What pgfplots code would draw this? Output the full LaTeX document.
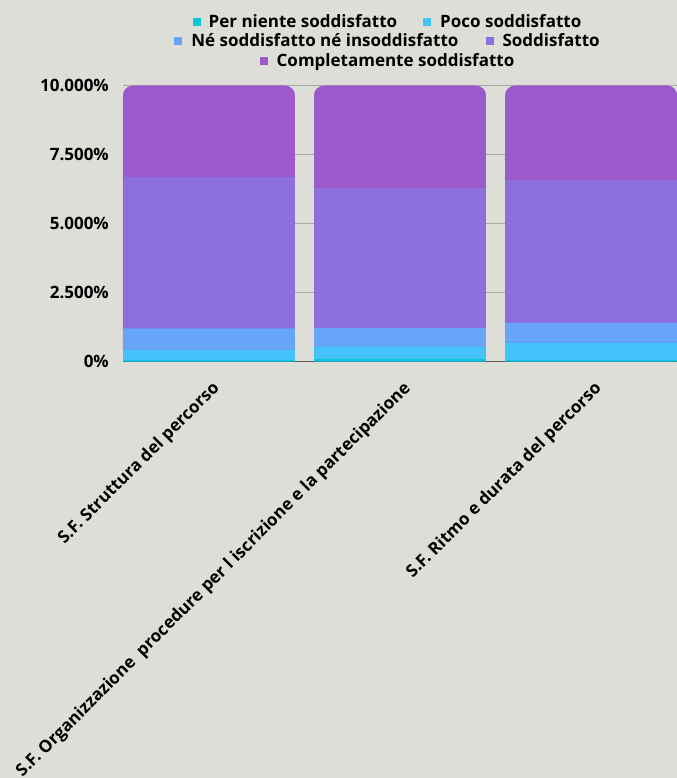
\documentclass[border=0pt]{standalone}
\usepackage{fontspec}
\setmainfont{Open Sans}
\usepackage{pgfplots}
\pgfplotsset{compat=1.18}
\usetikzlibrary{backgrounds}
\definecolor{cA}{RGB}{12,198,217}
\definecolor{cB}{RGB}{70,195,251}
\definecolor{cC}{RGB}{102,165,248}
\definecolor{cD}{RGB}{140,110,220}
\definecolor{cE}{RGB}{155,89,203}
\definecolor{bgc}{RGB}{222,222,217}
\definecolor{gridc}{RGB}{168,168,164}
\newcommand{\tlfont}{\fontsize{17bp}{20bp}\selectfont\bfseries}
\newcommand{\legsq}[1]{\textcolor{#1}{\rule[1.5bp]{8bp}{8bp}}}
\begin{document}
\begin{tikzpicture}
\pgfplotsset{
  base/.style={scale only axis, width=554bp, height=276bp,
    xmin=-0.45, xmax=2.45, ymin=0, ymax=10,
    xtick={0,1,2}, ytick={0,2.5,5,7.5,10}},
}
\begin{axis}[base, name=ax,
  axis line style={draw=none},
  major tick length=0pt,
  ymajorgrids, grid style={gridc, line width=1.2bp},
  extra y ticks={0}, extra y tick labels={},
  extra y tick style={grid style={black!65, line width=1bp}},
  yticklabels={0\%,2.500\%,5.000\%,7.500\%,10.000\%},
  y tick label style={font=\tlfont, anchor=east, inner sep=0pt, xshift=-14bp},
  xticklabels={S.F. Struttura del percorso,{S.F. Organizzazione\ \ procedure per l iscrizione e la partecipazione},S.F. Ritmo e durata del percorso},
  x tick label style={font=\tlfont, anchor=north east, inner sep=0pt, xshift=2bp, yshift=-18bp, rotate=45},
]
\addplot[ybar, bar width=0.9, bar shift=0pt, fill=cE, draw=none, rounded corners=10bp] coordinates {(0,10) (1,10) (2,10)};
\end{axis}
\begin{axis}[base, hide axis, ybar stacked, bar width=0.9]
\addplot[fill=cA, draw=none] coordinates {(0,0.06) (1,0.10) (2,0.07)};
\addplot[fill=cB, draw=none] coordinates {(0,0.39) (1,0.44) (2,0.62)};
\addplot[fill=cC, draw=none] coordinates {(0,0.76) (1,0.69) (2,0.72)};
\addplot[fill=cD, draw=none] coordinates {(0,5.49) (1,5.06) (2,5.17)};
\addplot[fill=cE, draw=none, rounded corners=10bp] coordinates {(0,3.30) (1,3.71) (2,3.42)};
\end{axis}
\node[anchor=base, inner sep=0pt, font=\tlfont] at ([xshift=-13bp,yshift=58.4bp]ax.north)
  {\legsq{cA}\hspace{8bp}Per niente soddisfatto\hspace{26bp}\legsq{cB}\hspace{9bp}Poco soddisfatto};
\node[anchor=base, inner sep=0pt, font=\tlfont] at ([xshift=-13bp,yshift=38.7bp]ax.north)
  {\legsq{cC}\hspace{9bp}Né soddisfatto né insoddisfatto\hspace{27bp}\legsq{cD}\hspace{9bp}Soddisfatto};
\node[anchor=base, inner sep=0pt, font=\tlfont] at ([xshift=-13bp,yshift=19bp]ax.north)
  {\legsq{cE}\hspace{9bp}Completamente soddisfatto};
\pgfresetboundingbox
\useasboundingbox ([xshift=-123bp,yshift=-416.3bp]ax.south west) rectangle ([yshift=85.7bp]ax.north east);
\begin{scope}[on background layer]
\fill[bgc] ([xshift=-123bp,yshift=-416.3bp]ax.south west) rectangle ([yshift=85.7bp]ax.north east);
\end{scope}
\end{tikzpicture}
\end{document}
